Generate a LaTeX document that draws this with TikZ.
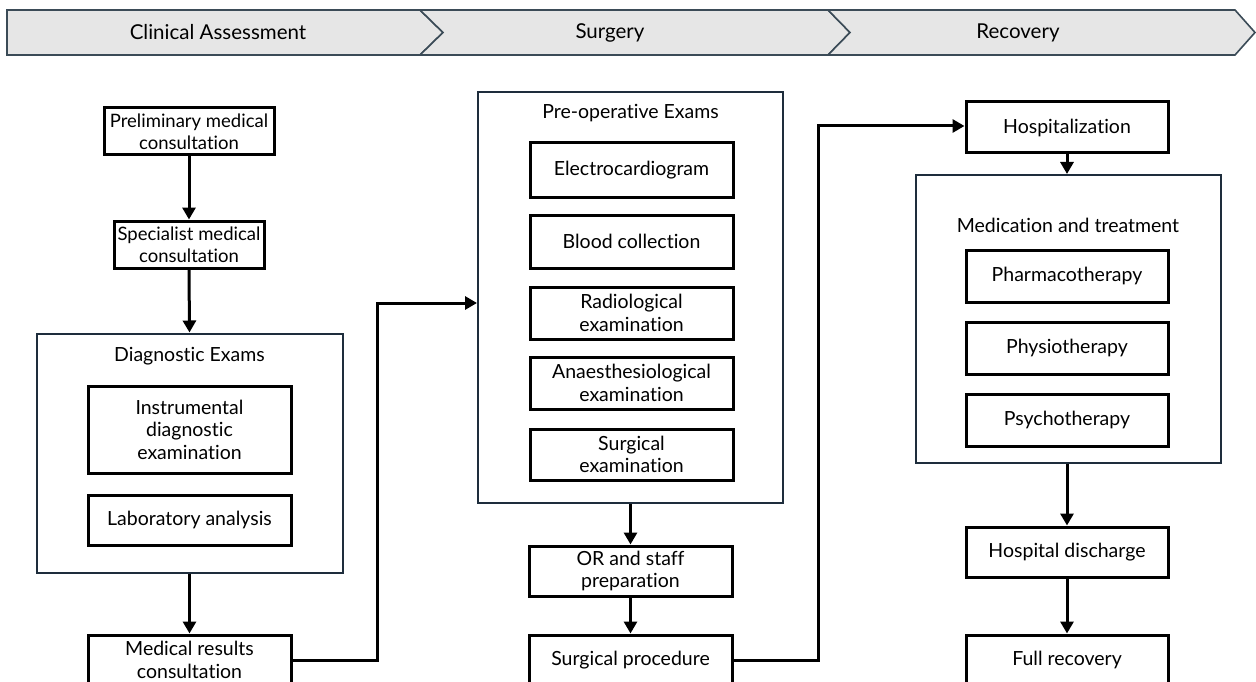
\documentclass[tikz,border=0pt]{standalone}
\usepackage{fontspec}
\setmainfont{Lato}[Ligatures={NoCommon,NoContextual}]
\usetikzlibrary{arrows.meta,calc}
\definecolor{hdrfill}{HTML}{E6E6E6}
\definecolor{hdrline}{HTML}{3B4B57}
\definecolor{contline}{HTML}{1E2D3C}
\tikzset{
  box/.style={draw=black, line width=3pt, fill=white, align=center, inner xsep=0pt, inner ysep=2pt,
    font=\fontsize{19.5}{22.5}\selectfont},
  smallbox/.style={box, font=\fontsize{18.5}{22}\selectfont},
  cont/.style={draw=contline, line width=2pt, fill=white},
  ctitle/.style={font=\fontsize{19.5}{23}\selectfont},
  hdr/.style={draw=hdrline, line width=1.6pt, fill=hdrfill, line join=miter},
  hdrtext/.style={font=\fontsize{20.5}{24}\selectfont},
  arr/.style={draw=black, line width=3pt, -{Triangle[width=13pt,length=12pt]}}
}
\begin{document}
\begin{tikzpicture}[x=1pt,y=-1pt]
\clip (0,0) rectangle (1256,682);
\fill[white] (0,0) rectangle (1256,682);
% header chevrons
\draw[hdr] (7,10) -- (420,10) -- (443,32.5) -- (420,55) -- (7,55) -- cycle;
\draw[hdr] (420,10) -- (828,10) -- (850,32.5) -- (828,55) -- (420,55) -- (443,32.5) -- cycle;
\draw[hdr] (828,10) -- (1235,10) -- (1255,32.5) -- (1235,55) -- (828,55) -- (850,32.5) -- cycle;
\node[hdrtext] (h1) at (218,32.5) {Clinical Assessment};
\node[hdrtext] (h2) at (610,32.5) {Surgery};
\node[hdrtext] (h3) at (1018,32.5) {Recovery};

% column 1
\node[smallbox, minimum width=170pt, minimum height=47pt] (pre) at (189,131.5) {Preliminary medical\\consultation};
\node[smallbox, minimum width=150pt, minimum height=47pt] (spec) at (189,244.5) {Specialist medical\\consultation};
\node[cont, minimum width=306pt, minimum height=239pt] (diag) at (189.5,453) {};
\node[ctitle] (diagt) at (189.5,356) {Diagnostic Exams};
\node[box, minimum width=203pt, minimum height=87pt] (instr) at (189.5,429.5) {Instrumental\\diagnostic\\examination};
\node[box, minimum width=203pt, minimum height=50pt] (lab) at (189.5,520) {Laboratory analysis};
\node[box, minimum width=203pt, minimum height=50pt] (medres) at (189.5,660) {Medical results\\consultation};

% column 2
\node[cont, minimum width=305pt, minimum height=411pt] (preop) at (630.5,297.5) {};
\node[ctitle] (preopt) at (630.5,113) {Pre-operative Exams};
\node[box, minimum width=203pt, minimum height=54pt] (ecg) at (631.5,170) {Electrocardiogram};
\node[box, minimum width=203pt, minimum height=53pt] (blood) at (631.5,241.5) {Blood collection};
\node[box, minimum width=203pt, minimum height=52pt] (radio) at (631.5,313) {Radiological\\examination};
\node[box, minimum width=203pt, minimum height=52pt] (anaes) at (631.5,383) {Anaesthesiological\\examination};
\node[box, minimum width=203pt, minimum height=51pt] (surgex) at (631.5,454.5) {Surgical\\examination};
\node[box, minimum width=203pt, minimum height=50pt] (orprep) at (630.5,571) {OR and staff\\preparation};
\node[box, minimum width=203pt, minimum height=50pt] (surgproc) at (630.5,660) {Surgical procedure};

% column 3
\node[box, minimum width=202pt, minimum height=51pt] (hosp) at (1067,127.5) {Hospitalization};
\node[cont, minimum width=305pt, minimum height=288pt] (med) at (1068,319) {};
\node[ctitle] (medt) at (1068,225) {Medication and treatment};
\node[box, minimum width=202pt, minimum height=52pt] (pharma) at (1067,276) {Pharmacotherapy};
\node[box, minimum width=202pt, minimum height=52pt] (physio) at (1067,348) {Physiotherapy};
\node[box, minimum width=202pt, minimum height=52pt] (psycho) at (1067,420) {Psychotherapy};
\node[box, minimum width=202pt, minimum height=50pt] (disch) at (1067,552) {Hospital discharge};
\node[box, minimum width=202pt, minimum height=50pt] (full) at (1067,660) {Full recovery};

% vertical arrows
\draw[arr] (pre.south) -- (spec.north);
\draw[arr] (spec.south) -- (diag.north);
\draw[arr] (diag.south) -- (medres.north);
\draw[arr] (preop.south -| orprep.north) -- (orprep.north);
\draw[arr] (orprep.south) -- (surgproc.north);
\draw[arr] (hosp.south) -- (med.north -| hosp.south);
\draw[arr] (med.south -| disch.north) -- (disch.north);
\draw[arr] (disch.south) -- (full.north);

% cross-column connectors
\coordinate (j1) at (377,303);
\draw[arr, line join=miter] (medres.east) -| (j1) -- (j1 -| preop.west);
\coordinate (j2) at (818,126);
\draw[arr, line join=miter] (surgproc.east) -| (j2) -- (j2 -| hosp.west);
\end{tikzpicture}
\end{document}
